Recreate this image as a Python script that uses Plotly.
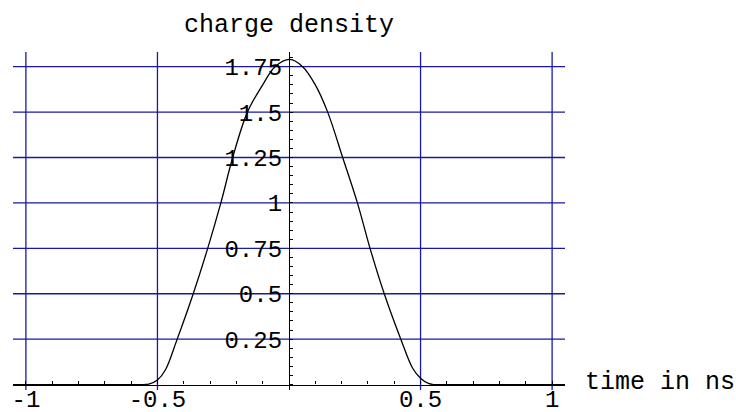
import plotly.graph_objects as go

# --- data ---
time_ns = [-1.05, -0.6, -0.55, -0.53, -0.5, -0.47, -0.425, -0.364, -0.309, -0.259,
           -0.214, -0.158, -0.1, -0.053, 0.003, 0.052, 0.1, 0.147, 0.204, 0.26,
           0.308, 0.362, 0.425, 0.47, 0.5, 0.53, 0.55, 0.6, 1.05]
charge_density = [0, 0, 0, 0.004, 0.025, 0.08, 0.25, 0.5, 0.75, 1.0,
                  1.25, 1.5, 1.65, 1.75, 1.79, 1.75, 1.65, 1.5, 1.25, 1.0,
                  0.75, 0.5, 0.25, 0.09, 0.035, 0.006, 0, 0, 0]

x_tickvals = [-1, -0.5, 0.5, 1]
x_ticktext = ["-1", "-0.5", "0.5", "1"]
y_tickvals = [0.25, 0.5, 0.75, 1, 1.25, 1.5, 1.75]
y_ticktext = ["0.25", "0.5", "0.75", "1", "1.25", "1.5", "1.75"]

x_range = [-1.049, 1.049]
y_range = [-0.03, 1.831]

FONT = "Liberation Mono"
GRID = "rgb(25,25,165)"

fig = go.Figure()
fig.add_trace(go.Scatter(
    x=time_ns, y=charge_density, mode="lines",
    line=dict(color="black", width=1.3, shape="spline", smoothing=1),
    hoverinfo="skip", showlegend=False))

# grid lines (drawn at the tick values through the axes' scales)
shapes = []
for xv in x_tickvals:
    shapes.append(dict(type="line", xref="x", yref="paper", x0=xv, x1=xv, y0=0, y1=1,
                       line=dict(color=GRID, width=1.3), layer="below"))
for yv in y_tickvals:
    shapes.append(dict(type="line", xref="paper", yref="y", x0=0, x1=1, y0=yv, y1=yv,
                       line=dict(color=GRID, width=1.3), layer="below"))

pos_x_axis = (0 - y_range[0]) / (y_range[1] - y_range[0])
pos_y_axis = (0 - x_range[0]) / (x_range[1] - x_range[0])

fig.update_layout(
    width=736, height=412,
    margin=dict(l=13, r=171, t=52, b=22, pad=0, autoexpand=False),
    plot_bgcolor="white", paper_bgcolor="white",
    font=dict(family=FONT, size=24, color="black"),
    shapes=shapes,
    xaxis=dict(
        range=x_range, tickmode="array", tickvals=x_tickvals, ticktext=x_ticktext,
        showgrid=False, automargin=False,
        zeroline=False, showline=True, linecolor="black", linewidth=1.3,
        anchor="free", position=pos_x_axis, side="bottom",
        ticks="", ticklabelstandoff=-8,
        minor=dict(tickmode="linear", tick0=0, dtick=0.1, ticks="inside",
                   ticklen=3, tickcolor="black", tickwidth=1, showgrid=False),
        tickfont=dict(family=FONT, size=24, color="black"),
    ),
    yaxis=dict(
        range=y_range, tickmode="array", tickvals=y_tickvals, ticktext=y_ticktext,
        showgrid=False, automargin=False,
        zeroline=False, showline=True, linecolor="black", linewidth=1.3,
        anchor="free", position=pos_y_axis, side="left",
        ticks="", ticklabelstandoff=2,
        minor=dict(tickmode="linear", tick0=0, dtick=0.05, ticks="inside",
                   ticklen=3, tickcolor="black", tickwidth=1, showgrid=False),
        tickfont=dict(family=FONT, size=24, color="black"),
    ),
    annotations=[
        dict(text="charge density", xref="x", yref="paper", x=0, y=1,
             xanchor="center", yanchor="bottom", yshift=10, showarrow=False,
             font=dict(family=FONT, size=25, color="black")),
        dict(text="time in ns", xref="paper", yref="y", x=1, y=0,
             xanchor="left", yanchor="middle", xshift=18, yshift=2, showarrow=False,
             font=dict(family=FONT, size=25, color="black")),
    ],
)

fig.write_html("out.html")
